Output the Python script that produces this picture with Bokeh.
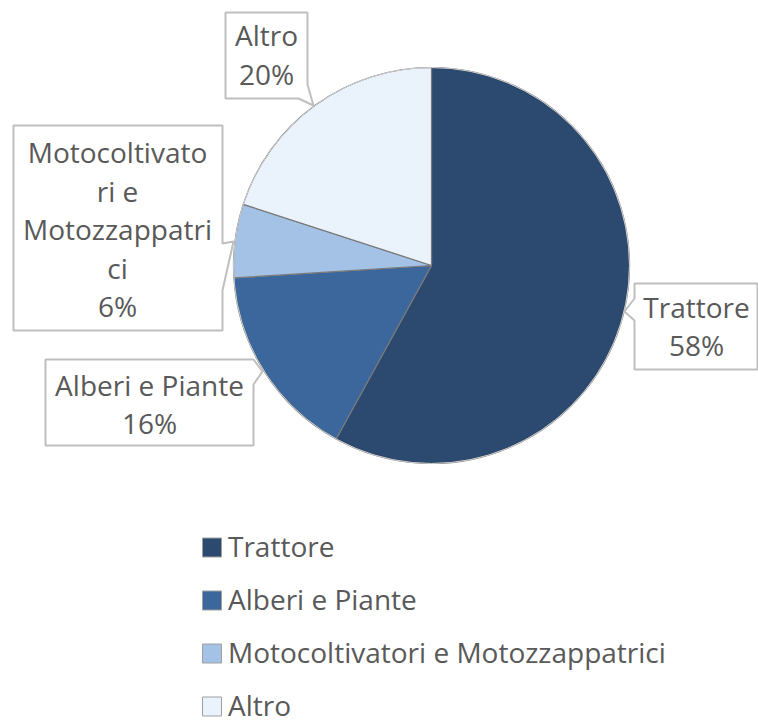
import math
from bokeh.plotting import figure
from bokeh.models import Range1d, ColumnDataSource
from bokeh.core.properties import value
from bokeh.embed import file_html
from bokeh.resources import INLINE

# ---- data ----
categories = ["Trattore", "Alberi e Piante", "Motocoltivatori e Motozzappatrici", "Altro"]
percents = [58, 16, 6, 20]
label_lines = [["Trattore", "58%"], ["Alberi e Piante", "16%"],
               ["Motocoltivato", "ri e", "Motozzappatri", "ci", "6%"], ["Altro", "20%"]]
colors = ["#2C4A6F", "#3C679C", "#A3C2E6", "#EAF2FC"]

# ---- layout (image pixel coordinates) ----
W, H = 758, 727
def Y(v):
    return H - v

FONT = "Open Sans"
FS = "28px"
TXT = "#595959"
BORDER = "#BFBFBF"

p = figure(width=W, height=H, output_backend="svg", toolbar_location=None,
           x_range=Range1d(0, W), y_range=Range1d(0, H), min_border=0)
p.axis.visible = False
p.grid.visible = False
p.outline_line_color = None
p.background_fill_color = "white"

cx, cy, r = 431, 265, 198
total = sum(percents)
starts, ends = [], []
a = math.pi / 2
for v in percents:
    starts.append(a)
    a -= 2 * math.pi * v / total
    ends.append(a)

src = ColumnDataSource(dict(start=starts, end=ends, color=colors,
                            x=[cx] * 4, y=[Y(cy)] * 4))
p.wedge(x="x", y="y", radius=r, start_angle="start", end_angle="end",
        direction="clock", fill_color="color", line_color="#7A7A7A",
        line_width=1.2, source=src)
p.circle(x=cx, y=Y(cy), radius=r, fill_color=None, line_color="#D0D0D0", line_width=1)

# ---- callouts ----
callouts = {
    "Trattore": [(634, 283), (757, 283), (757, 369), (634, 369), (634, 320), (624, 311), (634, 298)],
    "Alberi e Piante": [(45, 359), (253, 359), (262, 371), (253, 384), (253, 445), (45, 445)],
    "Motocoltivatori e Motozzappatrici": [(13, 125), (222, 125), (222, 243), (233, 241), (222, 290), (222, 330), (13, 330)],
    "Altro": [(225, 12), (307, 12), (307, 84), (313, 105), (298, 98), (225, 98)],
}
label_centers = {
    "Trattore": (696, 327.5),
    "Alberi e Piante": (149, 405.5),
    "Motocoltivatori e Motozzappatrici": (117, 230.5),
    "Altro": (266, 56),
}
line_gap = 38.5
dy_text = -2  # shift from em-middle to visual centre
for cat, lines in zip(categories, label_lines):
    pts = callouts[cat]
    p.patch([q[0] for q in pts], [Y(q[1]) for q in pts], fill_color="white",
            line_color=BORDER, line_width=2)
    lx, ly = label_centers[cat]
    n = len(lines)
    ys = [ly + (i - (n - 1) / 2) * line_gap + dy_text for i in range(n)]
    p.text(x=[lx] * n, y=[Y(v) for v in ys], text=lines, text_align="center",
           text_baseline="middle", text_font=value(FONT), text_font_size=FS,
           text_color=TXT)

# ---- legend ----
leg_x, leg_y0, leg_dy = 211.5, 547, 53.0
leg_ys = [leg_y0 + i * leg_dy for i in range(len(categories))]
p.scatter(x=[leg_x] * 4, y=[Y(v) for v in leg_ys], marker="square", size=19,
          fill_color=colors, line_color="#A0A0A0", line_width=1)
p.text(x=[leg_x + 16] * 4, y=[Y(v + dy_text) for v in leg_ys], text=categories,
       text_align="left", text_baseline="middle", text_font=value(FONT),
       text_font_size=FS, text_color=TXT)

open("out.html", "w").write(file_html(p, INLINE))
